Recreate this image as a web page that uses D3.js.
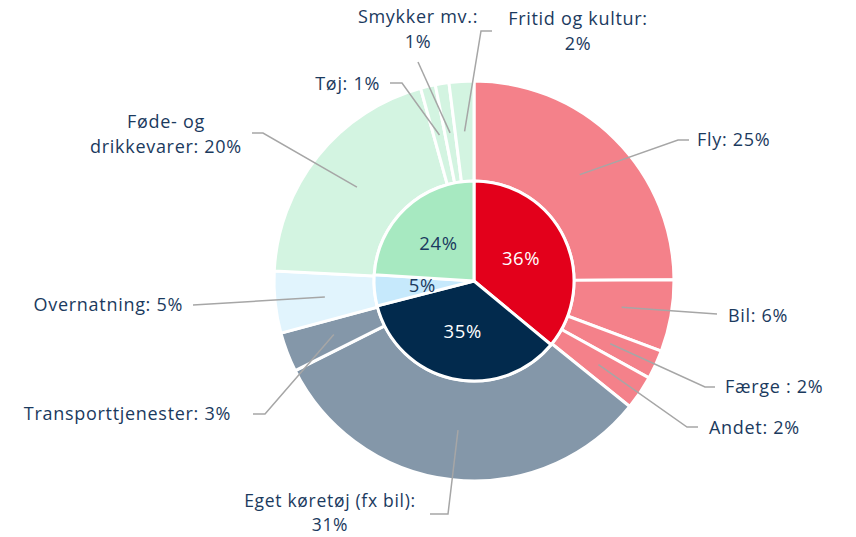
<!DOCTYPE html>
<html lang="da">
<head>
<meta charset="utf-8">
<title>Forbrug</title>
<script src="https://cdnjs.cloudflare.com/ajax/libs/d3/7.8.5/d3.min.js"></script>
<style>
  body { margin: 0; background: #fff; }
  text { font-family: "Open Sans", Lato, sans-serif; }
</style>
</head>
<body>
<script>
// inner pie: main groups
var groups = ["Transport", "Køretøj", "Overnatning", "Mad m.m."];
var groupValues = [36, 35, 5, 24];
var groupLabels = ["36%", "35%", "5%", "24%"];

// outer ring: sub categories (same order, clockwise from top)
var categories = ["Fly", "Bil", "Færge", "Andet", "Eget køretøj", "Transporttjenester",
                  "Overnatning", "Føde- og drikkevarer", "Tøj", "Smykker mv.", "Fritid og kultur"];
var catGroup = [0, 0, 0, 0, 1, 1, 2, 3, 3, 3, 3];
var catValues = [24.9, 5.8, 2.35, 2.75, 31.8, 3.2, 5.0, 19.9, 1.2, 1.1, 2.0];
var catLabels = [["Fly: 25%"], ["Bil: 6%"], ["Færge : 2%"], ["Andet: 2%"],
                 ["Eget køretøj (fx bil):", "31%"], ["Transporttjenester: 3%"],
                 ["Overnatning: 5%"], ["Føde- og", "drikkevarer: 20%"], ["Tøj: 1%"],
                 ["Smykker mv.:", "1%"], ["Fritid og kultur:", "2%"]];

var innerColors = ["#e3001b", "#022a4d", "#c6e9fc", "#a7e9c1"];
var outerColors = ["#f4818a", "#8497a9", "#e1f4fd", "#d3f4e1"];
var textColor = "#1b3a5e";

// leader line elbows / label anchors
var layout = [
  {elbow: [678, 140], end: [689, 140], tx: 697, ty: 140, anchor: "start", lh: 25, fs: 18},
  {elbow: [717, 314], end: [717, 314], tx: 728, ty: 316, anchor: "start", lh: 25, fs: 18},
  {elbow: [705, 387], end: [715, 387], tx: 725, ty: 387, anchor: "start", lh: 25, fs: 18},
  {elbow: [687, 427], end: [698, 427], tx: 709, ty: 428, anchor: "start", lh: 25, fs: 18},
  {elbow: [448, 514], end: [430, 514], tx: 330, ty: 501, anchor: "middle", lh: 24, fs: 17.5},
  {elbow: [265, 414], end: [253, 414], tx: 231, ty: 414, anchor: "end", lh: 25, fs: 18},
  {elbow: [193, 305], end: [193, 305], tx: 183, ty: 305, anchor: "end", lh: 25, fs: 18},
  {elbow: [263, 133], end: [252, 133], tx: 166, ty: 122, anchor: "middle", lh: 25, fs: 18},
  {elbow: [402, 83],  end: [390, 83],  tx: 380, ty: 84,  anchor: "end", lh: 25, fs: 18},
  {elbow: [418, 62],  end: [418, 62],  tx: 418, ty: 17,  anchor: "middle", lh: 25, fs: 18},
  {elbow: [481, 31],  end: [492, 31],  tx: 578, ty: 19,  anchor: "middle", lh: 25, fs: 18}
];

var w = 856, h = 537;
var cx = 474, cy = 281;
var rInner = 100, rOuter = 200;

var svg = d3.select("body").append("svg")
  .attr("width", w)
  .attr("height", h);

var g = svg.append("g").attr("transform", "translate(" + cx + "," + cy + ")");

var pie = d3.pie().sort(null).value(function(d) { return d; });

var outerArc = d3.arc().innerRadius(rInner).outerRadius(rOuter);
var innerArc = d3.arc().innerRadius(0).outerRadius(rInner);

var outerData = pie(catValues);
var innerData = pie(groupValues);

g.selectAll(".outer")
  .data(outerData)
  .enter().append("path")
  .attr("class", "outer")
  .attr("d", outerArc)
  .attr("fill", function(d, i) { return outerColors[catGroup[i]]; })
  .attr("stroke", "#fff")
  .attr("stroke-width", 3);

g.selectAll(".inner")
  .data(innerData)
  .enter().append("path")
  .attr("class", "inner")
  .attr("d", innerArc)
  .attr("fill", function(d, i) { return innerColors[i]; })
  .attr("stroke", "#fff")
  .attr("stroke-width", 3);

g.selectAll(".ilabel")
  .data(innerData)
  .enter().append("text")
  .attr("class", "ilabel")
  .attr("transform", function(d) {
    var c = d3.arc().innerRadius(0).outerRadius(rInner * 1.04).centroid(d);
    return "translate(" + c[0] + "," + c[1] + ")";
  })
  .attr("text-anchor", "middle")
  .attr("dy", "0.35em")
  .attr("font-size", 18.5)
  .attr("letter-spacing", 0.6)
  .attr("fill", function(d, i) { return i < 2 ? "#fff" : textColor; })
  .text(function(d, i) { return groupLabels[i]; });

// leader lines
var line = d3.line();
svg.selectAll(".leader")
  .data(outerData)
  .enter().append("path")
  .attr("class", "leader")
  .attr("fill", "none")
  .attr("stroke", "#a6a6a6")
  .attr("stroke-width", 1.5)
  .attr("d", function(d, i) {
    var c = outerArc.centroid(d);
    var L = layout[i];
    return line([[c[0] + cx, c[1] + cy], L.elbow, L.end]);
  });

var labels = svg.selectAll(".olabel")
  .data(catLabels)
  .enter().append("text")
  .attr("class", "olabel")
  .attr("x", function(d, i) { return layout[i].tx; })
  .attr("y", function(d, i) { return layout[i].ty; })
  .attr("text-anchor", function(d, i) { return layout[i].anchor; })
  .attr("font-size", function(d, i) { return layout[i].fs; })
  .attr("letter-spacing", 0.7)
  .attr("fill", textColor);

labels.selectAll("tspan")
  .data(function(d, i) { return d.map(function(s) { return {s: s, i: i}; }); })
  .enter().append("tspan")
  .attr("x", function(d) { return layout[d.i].tx; })
  .attr("dy", function(d, j) { return j === 0 ? "0.35em" : layout[d.i].lh + "px"; })
  .text(function(d) { return d.s; });
</script>
</body>
</html>
